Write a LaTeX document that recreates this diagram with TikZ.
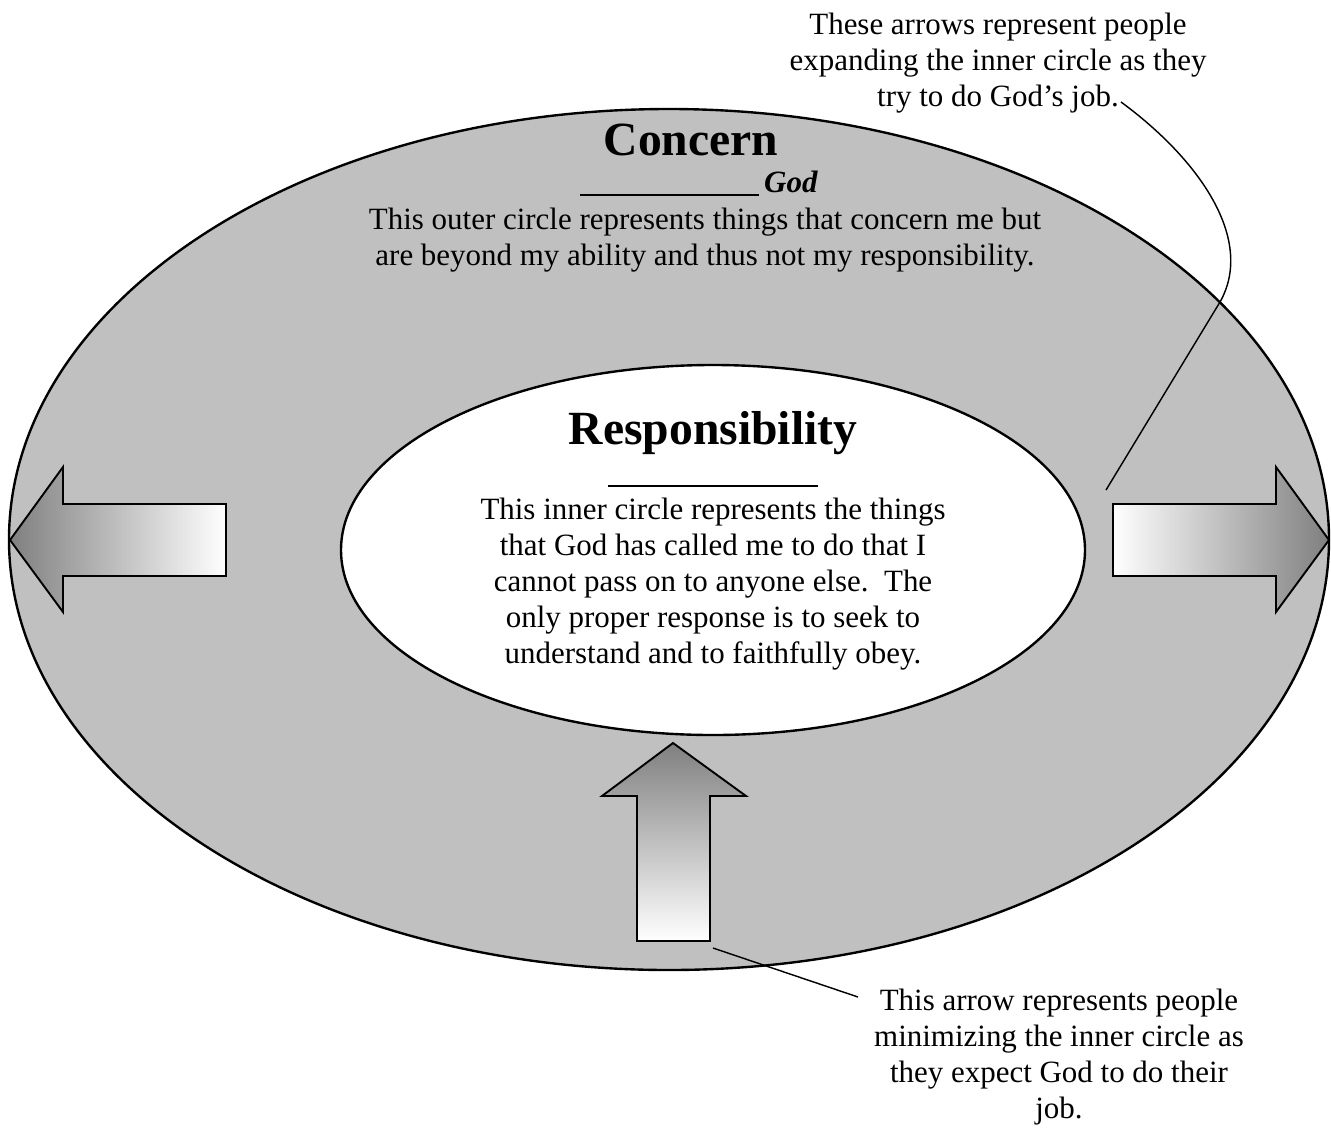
\documentclass[tikz,border=0pt]{standalone}
\usepackage{fontspec}
\setmainfont{Liberation Serif}
\usetikzlibrary{positioning}
\definecolor{silver}{RGB}{192,192,192}
\tikzstyle{ring} = [draw=black, line width=1pt, fill=silver]
\tikzstyle{core} = [draw=black, line width=1pt, fill=white]
\tikzstyle{fatarrow} = [draw=black, line width=0.8pt, line join=miter]
\tikzstyle{body} = [align=center, inner sep=0pt, font=\fontsize{13}{15.1}\selectfont]
\tikzstyle{heading} = [inner sep=0pt, anchor=base, font=\fontsize{20}{24}\selectfont\bfseries]
\tikzstyle{pointer} = [line width=0.6pt]

\begin{document}
\begin{tikzpicture}[x=0.42pt,y=-0.42pt]
\useasboundingbox (0,0) rectangle (1331,1128);

\draw[ring] (669,539.5) ellipse [x radius=660, y radius=430.5];
\draw[core] (713,550) ellipse [x radius=372, y radius=185];

\shadedraw[fatarrow, left color=black!50, middle color=black!22, right color=white]
  (10,540)--(63,467)--(63,504)--(226,504)--(226,576)--(63,576)--(63,612)--cycle;
\shadedraw[fatarrow, left color=white, middle color=black!22, right color=black!50]
  (1329,540)--(1276,467)--(1276,504)--(1113,504)--(1113,576)--(1276,576)--(1276,612)--cycle;
\shadedraw[fatarrow, top color=black!50, middle color=black!18, bottom color=white]
  (673,743)--(746,796)--(710,796)--(710,941)--(637,941)--(637,796)--(602,796)--cycle;

\node[heading] (concern) at (691,155) {Concern};
\node[inner sep=0pt, anchor=base west, font=\fontsize{13}{15.1}\selectfont] (god) at (580,192)
  {\rule[-1.8pt]{75pt}{1pt}\,\textbf{\textit{God}}};
\node[body] (outernote) at (705,240)
  {This outer circle represents things that concern me but\\are beyond my ability and thus not my responsibility.};

\node[heading] (resp) at (713,444) {Responsibility};
\node[inner sep=0pt] (respline) at (713,486) {\rule{88pt}{1.1pt}};
\node[body] (innernote) at (713,584)
  {This inner circle represents the things\\that God has called me to do that I\\cannot pass on to anyone else.\ \ The\\only proper response is to seek to\\understand and to faithfully obey.};

\node[body] (expandnote) at (998,63)
  {These arrows represent people\\expanding the inner circle as they\\try to do God’s job.};
\node[body] (shrinknote) at (1059,1057)
  {This arrow represents people\\minimizing the inner circle as\\they expect God to do their\\job.};

\coordinate (jobend) at (1121,102);
\coordinate (bend) at (1220,302);
\coordinate (rightarrow) at (1106,490);
\coordinate (uparrow) at (713,948);
\coordinate (shrinkend) at (858,997);

\draw[pointer] (jobend) .. controls (1200,160) and (1255,240) .. (bend) -- (rightarrow);
\draw[pointer] (uparrow) -- (shrinkend);
\end{tikzpicture}
\end{document}
